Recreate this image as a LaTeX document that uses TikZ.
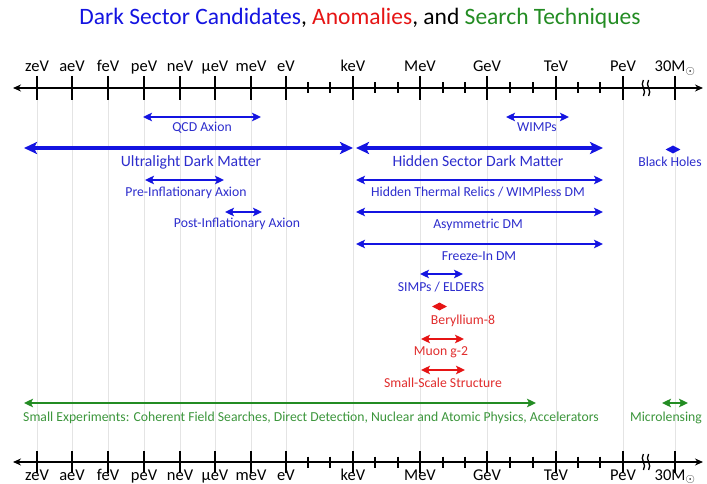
\documentclass[tikz,border=0pt]{standalone}
\usepackage{fontspec}
\setmainfont{Carlito}
\usetikzlibrary{arrows.meta,shapes.geometric}
\definecolor{dsblue}{RGB}{20,20,225}
\definecolor{labblue}{RGB}{45,45,205}
\definecolor{dsred}{RGB}{230,20,20}
\definecolor{labred}{RGB}{225,45,45}
\definecolor{dsgreen}{RGB}{35,140,35}
\definecolor{labgreen}{RGB}{60,150,60}
\definecolor{gridc}{RGB}{228,228,228}
\begin{document}
\begin{tikzpicture}[x=1pt,y=-1pt,
  axisline/.style={line width=1.8pt,{Stealth[length=8pt,width=7pt]}-{Stealth[length=8pt,width=7pt]}},
  majtick/.style={line width=1.6pt},
  mintick/.style={line width=1.4pt},
  gridline/.style={draw=gridc,line width=0.7pt},
  axlab/.style={font=\fontsize{16.5}{18}\selectfont,inner sep=0pt,anchor=base},
  thinrng/.style={draw=#1,line width=2.1pt,{Stealth[length=9pt,width=8.5pt,inset=2pt]}-{Stealth[length=9pt,width=8.5pt,inset=2pt]}},
  thickrng/.style={draw=#1,line width=3.8pt,{Stealth[length=13pt,width=12pt,inset=3pt]}-{Stealth[length=13pt,width=12pt,inset=3pt]}},
  smalllab/.style={text=#1,font=\fontsize{13.7}{15}\selectfont,inner sep=0pt,anchor=base},
  biglab/.style={text=#1,font=\fontsize{15.7}{17}\selectfont,inner sep=0pt,anchor=base},
  dia/.style={diamond,fill=#1,draw=none,aspect=1.9,inner sep=0pt,minimum width=15pt,minimum height=8pt},
  breakmark/.style={line width=1.3pt}]
\useasboundingbox (0,0) rectangle (707,484);
\fill[white] (0,0) rectangle (707,484);

% grid lines
\foreach \x in {37,72,108,144,180,215,251,286,353,420,487,556,623,675}{
  \draw[gridline] (\x,100) -- (\x,451);
}

% title
\node[anchor=base,inner sep=0pt,font=\fontsize{23.5}{26}\selectfont] (title) at (360,25)
  {{\color{dsblue}Dark Sector Candidates}, {\color{dsred}Anomalies}, and {\color{dsgreen}Search Techniques}};

% top axis
\coordinate (topL) at (13,88); \coordinate (topR) at (703,88);
\draw[axisline] (topL) -- (topR);
\foreach \x/\t in {37/zeV,72/aeV,108/feV,144/peV,180/neV,215/μeV,251/meV,286/eV,353/keV,420/MeV,487/GeV,556/TeV,623/PeV}{
  \draw[majtick] (\x,76) -- (\x,100);
  \node[axlab] (top-\x) at (\x,72) {\t};
}
\draw[majtick] (675,76) -- (675,100);
\node[axlab] (top-675) at (675,72) {30M$_{\odot}$};
\foreach \x in {308,330,375,398,443,465,510,533,578,600}{
  \draw[mintick] (\x,82.5) -- (\x,93.5);
}
\foreach \d in {-2.6,2.6}{
  \draw[breakmark] (646+\d,80) .. controls (646+\d-4,85.5) and (646+\d+4,90.5) .. (646+\d,96);
}

% bottom axis
\coordinate (botL) at (13,462); \coordinate (botR) at (703,462);
\draw[axisline] (botL) -- (botR);
\foreach \x/\t in {37/zeV,72/aeV,108/feV,144/peV,180/neV,215/μeV,251/meV,286/eV,353/keV,420/MeV,487/GeV,556/TeV,623/PeV}{
  \draw[majtick] (\x,451) -- (\x,473);
  \node[axlab] (bot-\x) at (\x,480) {\t};
}
\draw[majtick] (675,451) -- (675,473);
\node[axlab] (bot-675) at (675,480) {30M$_{\odot}$};
\foreach \x in {308,330,375,398,443,465,510,533,578,600}{
  \draw[mintick] (\x,456.5) -- (\x,467.5);
}
\foreach \d in {-2.6,2.6}{
  \draw[breakmark] (646+\d,454) .. controls (646+\d-4,459.5) and (646+\d+4,464.5) .. (646+\d,470);
}

% QCD Axion
\coordinate (qcdL) at (143,117); \coordinate (qcdR) at (261,117);
\draw[thinrng=dsblue] (qcdL) -- (qcdR);
\node[smalllab=labblue] (qcd) at (202,131.5) {QCD Axion};

% WIMPs
\coordinate (wimpL) at (506,117); \coordinate (wimpR) at (569,117);
\draw[thinrng=dsblue] (wimpL) -- (wimpR);
\node[smalllab=labblue] (wimp) at (537,131.5) {WIMPs};

% Ultralight DM
\coordinate (uldmL) at (24,148); \coordinate (uldmR) at (353,148);
\draw[thickrng=dsblue] (uldmL) -- (uldmR);
\node[biglab=labblue] (uldm) at (191,166.5) {Ultralight Dark Matter};

% Hidden Sector DM
\coordinate (hsdmL) at (356,148); \coordinate (hsdmR) at (603,148);
\draw[thickrng=dsblue] (hsdmL) -- (hsdmR);
\node[biglab=labblue] (hsdm) at (478,166.5) {Hidden Sector Dark Matter};

% Black holes
\node[dia=dsblue] (bhd) at (673,149.5) {};
\node[smalllab=labblue] (bh) at (670,166.5) {Black Holes};

% Pre-inflationary axion
\coordinate (preL) at (145,180); \coordinate (preR) at (224,180);
\draw[thinrng=dsblue] (preL) -- (preR);
\node[smalllab=labblue] (pre) at (186,196.5) {Pre-Inflationary Axion};

% Hidden thermal relics
\coordinate (htrL) at (356,180); \coordinate (htrR) at (603,180);
\draw[thinrng=dsblue] (htrL) -- (htrR);
\node[smalllab=labblue] (htr) at (478,196.5) {Hidden Thermal Relics / WIMPless DM};

% Post-inflationary axion
\coordinate (postL) at (225,212); \coordinate (postR) at (262,212);
\draw[thinrng=dsblue] (postL) -- (postR);
\node[smalllab=labblue] (post) at (237,227.5) {Post-Inflationary Axion};

% Asymmetric DM
\coordinate (asyL) at (356,212); \coordinate (asyR) at (603,212);
\draw[thinrng=dsblue] (asyL) -- (asyR);
\node[smalllab=labblue] (asy) at (478,228.5) {Asymmetric DM};

% Freeze-In DM
\coordinate (fiL) at (356,244); \coordinate (fiR) at (603,244);
\draw[thinrng=dsblue] (fiL) -- (fiR);
\node[smalllab=labblue] (fi) at (479,260.5) {Freeze-In DM};

% SIMPs / ELDERS
\coordinate (simpL) at (420,274); \coordinate (simpR) at (463,274);
\draw[thinrng=dsblue] (simpL) -- (simpR);
\node[smalllab=labblue] (simp) at (441,291.5) {SIMPs / ELDERS};

% Beryllium-8
\node[dia=dsred] (bed) at (439.5,306.5) {};
\node[smalllab=labred] (be) at (463,324.5) {Beryllium-8};

% Muon g-2
\coordinate (muL) at (421,339); \coordinate (muR) at (464,339);
\draw[thinrng=dsred] (muL) -- (muR);
\node[smalllab=labred] (mu) at (441,355.5) {Muon g-2};

% Small-scale structure
\coordinate (sssL) at (421,370); \coordinate (sssR) at (465,370);
\draw[thinrng=dsred] (sssL) -- (sssR);
\node[smalllab=labred] (sss) at (443,387.5) {Small-Scale Structure};

% Small experiments
\coordinate (seL) at (24,403); \coordinate (seR) at (536,403);
\draw[thinrng=dsgreen] (seL) -- (seR);
\node[smalllab=labgreen] (se) at (311,421.5) {Small Experiments: Coherent Field Searches, Direct Detection, Nuclear and Atomic Physics, Accelerators};

% Microlensing
\coordinate (mlL) at (662,403); \coordinate (mlR) at (688,403);
\draw[thinrng=dsgreen] (mlL) -- (mlR);
\node[smalllab=labgreen] (ml) at (666,421.5) {Microlensing};
\end{tikzpicture}
\end{document}
